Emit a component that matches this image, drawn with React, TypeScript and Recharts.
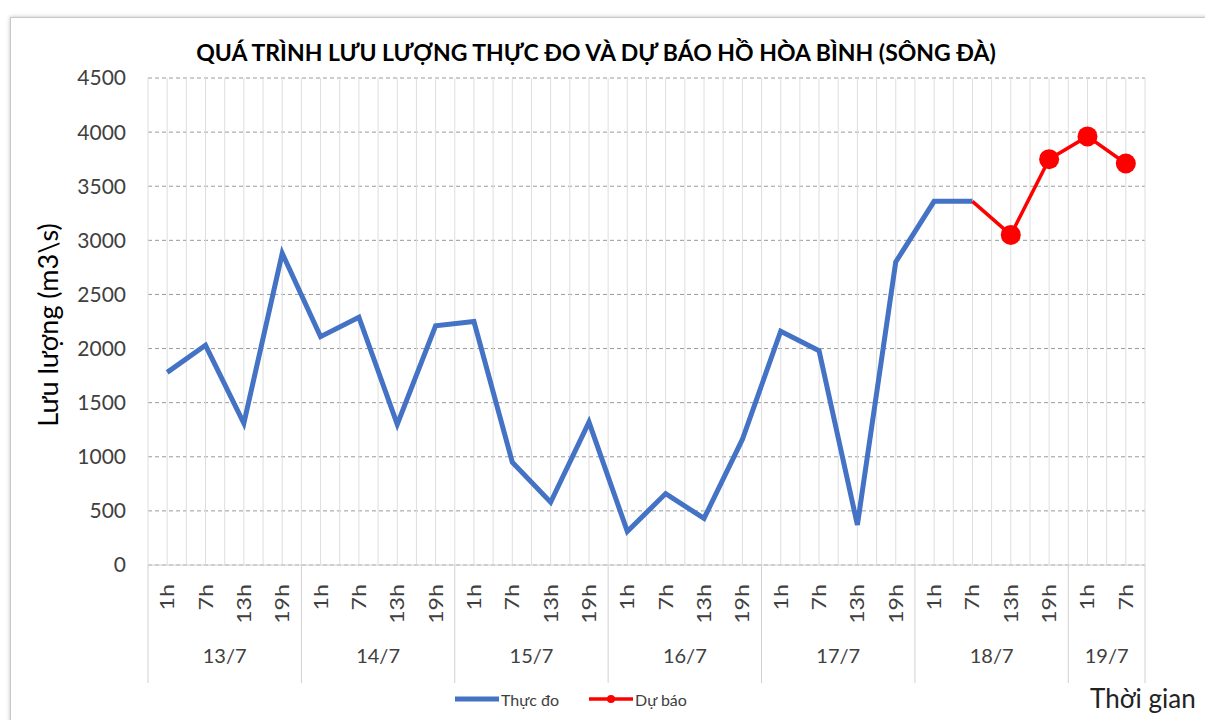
import React from 'react';
import { LineChart, Line, XAxis, YAxis, CartesianGrid } from 'recharts';

// categories: hour of observation, grouped by day
const hourLabels = [
  '1h', '7h', '13h', '19h',
  '1h', '7h', '13h', '19h',
  '1h', '7h', '13h', '19h',
  '1h', '7h', '13h', '19h',
  '1h', '7h', '13h', '19h',
  '1h', '7h', '13h', '19h',
  '1h', '7h',
];
const dayLabels = [
  '13/7', '13/7', '13/7', '13/7',
  '14/7', '14/7', '14/7', '14/7',
  '15/7', '15/7', '15/7', '15/7',
  '16/7', '16/7', '16/7', '16/7',
  '17/7', '17/7', '17/7', '17/7',
  '18/7', '18/7', '18/7', '18/7',
  '19/7', '19/7',
];

// Thực đo (observed)
const thucDo = [
  1780, 2030, 1310, 2880,
  2110, 2290, 1300, 2210,
  2250, 950, 580, 1320,
  310, 660, 430, 1160,
  2160, 1980, 370, 2800,
  3360, 3360, null, null,
  null, null,
];
// Dự báo (forecast)
const duBao = [
  null, null, null, null,
  null, null, null, null,
  null, null, null, null,
  null, null, null, null,
  null, null, null, null,
  null, 3360, 3050, 3750,
  3960, 3710,
];
const yTicks = [0, 500, 1000, 1500, 2000, 2500, 3000, 3500, 4000, 4500];

const data = hourLabels.map((h, i) => ({
  key: `${dayLabels[i]} ${h}`,
  hour: h,
  day: dayLabels[i],
  thucDo: thucDo[i],
  duBao: duBao[i],
}));

const FONT = 'Lato, "Open Sans", sans-serif';
const W = 1205;
const H = 720;
const M = { top: 78, right: 60, left: 88, bottom: 35 };
const PLOT_W = W - M.left - M.right - 60;
const BAND = PLOT_W / data.length;

function HourTick(props: any) {
  const { x, y, payload } = props;
  const i = payload.index;
  const day = data[i].day;
  const first = i === 0 || data[i - 1].day !== day;
  const last = i === data.length - 1;
  let groupLen = 0;
  for (let j = i; j < data.length && data[j].day === day; j++) groupLen++;
  const left = x - BAND / 2;
  return (
    <g>
      <text
        transform={`translate(${x + 7}, ${y + 19}) rotate(-90) scale(1.22, 1)`}
        textAnchor="end"
        fontSize={19}
        fill="#404040"
        fontFamily={FONT}
      >
        {payload.value}
      </text>
      {first && (
        <>
          <line x1={left} x2={left} y1={y} y2={y + 118} stroke="#d0d0d0" strokeWidth={1} />
          <text
            x={left + (groupLen * BAND) / 2}
            y={y + 98}
            textAnchor="middle"
            fontSize={20}
            fill="#404040"
            fontFamily={FONT}
          >
            {day}
          </text>
        </>
      )}
      {last && <line x1={x + BAND / 2} x2={x + BAND / 2} y1={y} y2={y + 118} stroke="#d0d0d0" strokeWidth={1} />}
    </g>
  );
}

function ForecastDot(props: any) {
  const { cx, cy, index, value } = props;
  if (value == null || index <= 21) return <g key={`d${index}`} />;
  return <circle key={`d${index}`} cx={cx} cy={cy} r={10} fill="#ff0000" />;
}

export default function App() {
  const halfLines = ({ offset }: any) => {
    const n = data.length * 2;
    const out: number[] = [];
    for (let k = 0; k <= n; k++) out.push(offset.left + (offset.width * k) / n);
    return out;
  };

  return (
    <div style={{ position: 'absolute', left: 0, top: 0, width: W, height: H, background: '#fff', overflow: 'hidden' }}>
      <div
        style={{
          position: 'absolute',
          left: 10,
          top: 17,
          width: W,
          height: H,
          border: '1px solid #c8c8c8',
          boxShadow: '0 0 4px rgba(0,0,0,0.25)',
        }}
      />
      <div
        style={{
          position: 'absolute',
          left: 0,
          top: 38,
          width: 1192,
          textAlign: 'center',
          fontFamily: FONT,
          fontWeight: 'bold',
          fontSize: 23,
          color: '#000',
        }}
      >
        QUÁ TRÌNH LƯU LƯỢNG THỰC ĐO VÀ DỰ BÁO HỒ HÒA BÌNH (SÔNG ĐÀ)
      </div>
      <div
        style={{
          position: 'absolute',
          left: 47,
          top: 325,
          transform: 'translate(-50%, -50%) rotate(-90deg)',
          whiteSpace: 'nowrap',
          fontFamily: FONT,
          fontSize: 27,
          color: '#000',
        }}
      >
        Lưu lượng (m3\s)
      </div>
      <LineChart width={W} height={H} data={data} margin={M} style={{ position: 'absolute', left: 0, top: 0 }}>
        <CartesianGrid vertical={false} stroke="#9a9a9a" strokeDasharray="4 3" />
        <CartesianGrid horizontal={false} stroke="#dedede" verticalCoordinatesGenerator={halfLines} />
        <XAxis
          dataKey="hour"
          interval={0}
          height={120}
          padding={{ left: BAND / 2, right: BAND / 2 }}
          tickLine={false}
          tickSize={0}
          tickMargin={0}
          axisLine={{ stroke: '#d0d0d0' }}
          tick={<HourTick />}
        />
        <YAxis
          domain={[0, 4500]}
          ticks={yTicks}
          width={60}
          tickLine={false}
          axisLine={false}
          tickSize={0}
          tickMargin={22}
          tick={{ fontSize: 21, fill: '#404040', fontFamily: FONT }}
        />
        <Line
          type="linear"
          dataKey="thucDo"
          stroke="#4472c4"
          strokeWidth={5}
          dot={false}
          connectNulls={false}
          isAnimationActive={false}
        />
        <Line
          type="linear"
          dataKey="duBao"
          stroke="#ff0000"
          strokeWidth={3.5}
          dot={<ForecastDot />}
          connectNulls={false}
          isAnimationActive={false}
        />
      </LineChart>
      <div
        style={{
          position: 'absolute',
          left: 455,
          top: 689,
          display: 'flex',
          alignItems: 'center',
          fontFamily: FONT,
          fontSize: 16,
          color: '#404040',
        }}
      >
        <svg width={44} height={20}>
          <line x1={0} x2={44} y1={10} y2={10} stroke="#4472c4" strokeWidth={5} />
        </svg>
        <span style={{ marginLeft: 2, marginRight: 30 }}>Thực đo</span>
        <svg width={44} height={20}>
          <line x1={0} x2={44} y1={10} y2={10} stroke="#ff0000" strokeWidth={3.5} />
          <circle cx={22} cy={10} r={4} fill="#ff0000" />
        </svg>
        <span style={{ marginLeft: 2 }}>Dự báo</span>
      </div>
      <div
        style={{
          position: 'absolute',
          left: 1090,
          top: 682,
          fontFamily: FONT,
          fontSize: 26,
          color: '#222',
          whiteSpace: 'nowrap',
        }}
      >
        Thời gian
      </div>
    </div>
  );
}
